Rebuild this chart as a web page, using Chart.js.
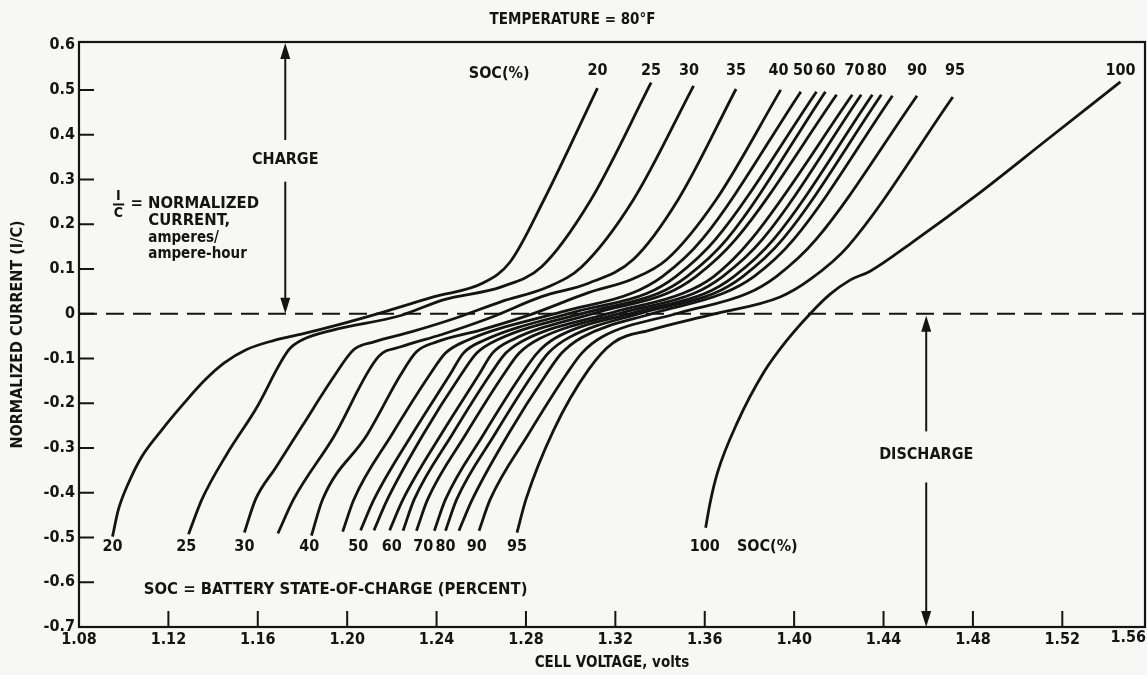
<!DOCTYPE html>
<html>
<head>
<meta charset="utf-8">
<script src="https://cdn.jsdelivr.net/npm/chart.js"></script>
<style>
  html, body { margin: 0; padding: 0; background: #f7f7f5; }
</style>
</head>
<body>
<canvas id="myChart" width="1147" height="675"></canvas>
<script>
// axis ticks
var xTicks = [1.08, 1.12, 1.16, 1.20, 1.24, 1.28, 1.32, 1.36, 1.40, 1.44, 1.48, 1.52];
var yTicks = [-0.7, -0.6, -0.5, -0.4, -0.3, -0.2, -0.1, 0, 0.1, 0.2, 0.3, 0.4, 0.5, 0.6];

// state of charge (%) of each curve
var socLevels = [20, 25, 30, 35, 40, 45, 50, 55, 60, 65, 70, 75, 80, 85, 90, 95, 100];

// [cell voltage (V), normalized current (I/C)]
var soc20 = [[1.095,-0.498],[1.0975,-0.44],[1.102,-0.38],[1.108,-0.32],[1.117,-0.26],[1.127,-0.20],[1.136,-0.15],[1.145,-0.11],[1.155,-0.08],[1.167,-0.06],[1.180,-0.045],[1.195,-0.026],[1.215,0.002],[1.239,0.038],[1.261,0.069],[1.273,0.116],[1.288,0.254],[1.312,0.504]];
var soc25 = [[1.129,-0.493],[1.135,-0.415],[1.146,-0.315],[1.159,-0.214],[1.174,-0.080],[1.180,-0.058],[1.194,-0.036],[1.224,-0.004],[1.243,0.031],[1.269,0.060],[1.287,0.105],[1.309,0.254],[1.336,0.516]];
var soc30 = [[1.154,-0.489],[1.159,-0.415],[1.168,-0.344],[1.180,-0.250],[1.194,-0.141],[1.203,-0.080],[1.212,-0.063],[1.229,-0.040],[1.249,-0.009],[1.269,0.027],[1.290,0.060],[1.305,0.105],[1.328,0.254],[1.355,0.509]];
var soc35 = [[1.169,-0.491],[1.176,-0.415],[1.194,-0.275],[1.214,-0.096],[1.224,-0.074],[1.242,-0.047],[1.264,-0.009],[1.287,0.038],[1.308,0.068],[1.328,0.121],[1.348,0.254],[1.374,0.502]];
var soc40 = [[1.184,-0.496],[1.189,-0.415],[1.209,-0.270],[1.224,-0.136],[1.231,-0.085],[1.240,-0.063],[1.260,-0.036],[1.282,-0.002],[1.308,0.047],[1.328,0.078],[1.343,0.121],[1.365,0.254],[1.394,0.500]];
var soc45 = [[1.198,-0.487],[1.203,-0.415],[1.220,-0.270],[1.237,-0.136],[1.244,-0.088],[1.253,-0.061],[1.296,0.004],[1.327,0.045],[1.341,0.083],[1.359,0.167],[1.403,0.496]];
var soc50 = [[1.206,-0.484],[1.212,-0.415],[1.229,-0.270],[1.246,-0.136],[1.252,-0.088],[1.261,-0.060],[1.302,0.004],[1.334,0.045],[1.347,0.083],[1.365,0.167],[1.410,0.496]];
var soc55 = [[1.212,-0.484],[1.218,-0.415],[1.234,-0.270],[1.251,-0.136],[1.258,-0.088],[1.267,-0.059],[1.307,0.003],[1.339,0.045],[1.352,0.083],[1.370,0.167],[1.414,0.496]];
var soc60 = [[1.219,-0.484],[1.225,-0.415],[1.242,-0.270],[1.259,-0.136],[1.265,-0.088],[1.274,-0.058],[1.312,0.003],[1.343,0.045],[1.356,0.083],[1.374,0.167],[1.419,0.489]];
var soc65 = [[1.225,-0.485],[1.230,-0.415],[1.247,-0.270],[1.264,-0.136],[1.271,-0.088],[1.280,-0.057],[1.319,0.003],[1.350,0.045],[1.364,0.083],[1.381,0.167],[1.426,0.489]];
var soc70 = [[1.231,-0.485],[1.236,-0.415],[1.253,-0.270],[1.270,-0.136],[1.277,-0.088],[1.286,-0.056],[1.323,0.002],[1.355,0.045],[1.368,0.083],[1.386,0.167],[1.430,0.489]];
var soc75 = [[1.239,-0.485],[1.244,-0.415],[1.261,-0.270],[1.278,-0.136],[1.285,-0.088],[1.293,-0.055],[1.328,0.002],[1.360,0.045],[1.373,0.083],[1.391,0.167],[1.435,0.489]];
var soc80 = [[1.244,-0.485],[1.249,-0.415],[1.266,-0.270],[1.283,-0.136],[1.290,-0.088],[1.299,-0.054],[1.332,0.002],[1.364,0.045],[1.377,0.083],[1.395,0.167],[1.439,0.489]];
var soc85 = [[1.250,-0.485],[1.256,-0.415],[1.272,-0.270],[1.289,-0.136],[1.296,-0.088],[1.305,-0.053],[1.337,0.001],[1.368,0.045],[1.382,0.083],[1.400,0.167],[1.444,0.487]];
var soc90 = [[1.259,-0.485],[1.264,-0.415],[1.281,-0.270],[1.298,-0.136],[1.305,-0.088],[1.314,-0.052],[1.348,0.001],[1.379,0.045],[1.392,0.083],[1.410,0.167],[1.455,0.487]];
var soc95 = [[1.276,-0.489],[1.280,-0.415],[1.2925,-0.259],[1.308,-0.125],[1.319,-0.065],[1.336,-0.036],[1.363,-0.002],[1.394,0.038],[1.407,0.076],[1.424,0.150],[1.471,0.484]];
var soc100 = [[1.3604,-0.478],[1.3625,-0.42],[1.3657,-0.355],[1.3746,-0.243],[1.3863,-0.132],[1.397,-0.058],[1.4072,0.000],[1.416,0.043],[1.425,0.075],[1.434,0.095],[1.453,0.160],[1.483,0.270],[1.513,0.388],[1.546,0.518]];
var curves = [soc20, soc25, soc30, soc35, soc40, soc45, soc50, soc55, soc60, soc65, soc70, soc75, soc80, soc85, soc90, soc95, soc100];

// curve labels along the top and bottom ends
var topLabels = ['20', '25', '30', '35', '40', '50', '60', '70', '80', '90', '95', '100'];
var topLabelV = [1.312, 1.336, 1.353, 1.374, 1.393, 1.404, 1.414, 1.427, 1.437, 1.455, 1.472, 1.546];
var bottomLabels = ['20', '25', '30', '40', '50', '60', '70', '80', '90', '95', '100'];
var bottomLabelV = [1.095, 1.128, 1.154, 1.183, 1.205, 1.220, 1.234, 1.244, 1.258, 1.276, 1.360];

var ink = '#141414';
var FONT = '"DejaVu Sans Condensed", "DejaVu Sans", sans-serif';

function drawArrow(c, x, yTip, yTail) {
  var dir = yTip < yTail ? 1 : -1;
  c.beginPath();
  c.moveTo(x, yTail);
  c.lineTo(x, yTip + dir * 8);
  c.stroke();
  c.beginPath();
  c.moveTo(x, yTip);
  c.lineTo(x - 5, yTip + dir * 16);
  c.lineTo(x + 5, yTip + dir * 16);
  c.closePath();
  c.fill();
}

var decor = {
  id: 'decor',
  beforeDraw: function(chart) {
    var c = chart.ctx;
    c.save();
    c.fillStyle = '#f7f7f5';
    c.fillRect(0, 0, chart.width, chart.height);
    c.restore();
  },
  afterDraw: function(chart) {
    var c = chart.ctx, a = chart.chartArea;
    var xs = chart.scales.x, ys = chart.scales.y;
    var X = function(v) { return xs.getPixelForValue(v); };
    var Y = function(v) { return ys.getPixelForValue(v); };
    c.save();
    c.strokeStyle = ink;
    c.fillStyle = ink;
    c.lineWidth = 2.2;
    c.strokeRect(a.left, a.top, a.right - a.left, a.bottom - a.top);

    // inward tick marks
    c.lineWidth = 2;
    c.beginPath();
    xTicks.forEach(function(v) {
      if (v > 1.09) { c.moveTo(X(v), a.bottom); c.lineTo(X(v), a.bottom - 16); }
    });
    yTicks.forEach(function(v) {
      if (v > -0.65 && v < 0.55) { c.moveTo(a.left, Y(v)); c.lineTo(a.left + 15, Y(v)); }
    });
    c.stroke();

    // last x label sits against the frame
    c.font = 'bold 16px ' + FONT;
    c.textAlign = 'right';
    c.textBaseline = 'top';
    c.fillText('1.56', a.right + 1, a.bottom + 3);

    // zero current line
    c.save();
    c.setLineDash([18, 9]);
    c.beginPath();
    c.moveTo(a.left, Y(0));
    c.lineTo(a.right, Y(0));
    c.stroke();
    c.restore();

    // charge / discharge arrows
    var xc = X(1.1723), xd = X(1.4591);
    drawArrow(c, xc, a.top + 1, Y(0.388));
    drawArrow(c, xc, Y(0), Y(0.295));
    drawArrow(c, xd, Y(0) + 2, Y(-0.263));
    drawArrow(c, xd, a.bottom, Y(-0.377));

    c.textAlign = 'center';
    c.textBaseline = 'middle';
    c.fillText('CHARGE', xc, Y(0.344));
    c.fillText('DISCHARGE', xd, Y(-0.315));

    // SOC labels
    c.fillText('SOC(%)', X(1.268), Y(0.536));
    topLabels.forEach(function(t, k) { c.fillText(t, X(topLabelV[k]), Y(0.542)); });
    bottomLabels.forEach(function(t, k) { c.fillText(t, X(bottomLabelV[k]), Y(-0.520)); });
    c.fillText('SOC(%)', X(1.388), Y(-0.520));

    c.textAlign = 'left';
    c.font = 'bold 16.5px ' + FONT;
    c.fillText('SOC = BATTERY STATE-OF-CHARGE (PERCENT)', X(1.109), Y(-0.616));

    // I/C legend note
    c.textAlign = 'center';
    c.font = 'bold 14px ' + FONT;
    c.fillText('I', X(1.0976), Y(0.262));
    c.fillText('C', X(1.0976), Y(0.224));
    c.beginPath();
    c.moveTo(X(1.0952), Y(0.244));
    c.lineTo(X(1.1002), Y(0.244));
    c.stroke();
    c.textAlign = 'left';
    c.font = 'bold 16.5px ' + FONT;
    c.fillText('= NORMALIZED', X(1.103), Y(0.246));
    c.fillText('CURRENT,', X(1.111), Y(0.208));
    c.font = 'bold 15px ' + FONT;
    c.fillText('amperes/', X(1.111), Y(0.169));
    c.fillText('ampere-hour', X(1.111), Y(0.132));
    c.restore();
  }
};

var ctx = document.getElementById('myChart').getContext('2d');
var myChart = new Chart(ctx, {
  type: 'scatter',
  data: {
    datasets: socLevels.map(function(s, k) {
      return {
        label: 'SOC ' + s + '%',
        data: curves[k].map(function(p) { return { x: p[0], y: p[1] }; }),
        showLine: true,
        borderColor: ink,
        backgroundColor: ink,
        borderWidth: 2.8,
        pointRadius: 0,
        cubicInterpolationMode: 'monotone',
        fill: false
      };
    })
  },
  options: {
    responsive: false,
    animation: false,
    devicePixelRatio: 1,
    layout: { padding: { left: 0, right: 2, top: 0, bottom: 0 } },
    plugins: {
      legend: { display: false },
      tooltip: { enabled: false },
      title: {
        display: true,
        text: 'TEMPERATURE = 80°F',
        color: ink,
        font: { family: FONT, size: 15, weight: 'bold' },
        padding: { top: 11, bottom: 13 }
      }
    },
    scales: {
      x: {
        type: 'linear',
        min: 1.08,
        max: 1.557,
        afterBuildTicks: function(scale) {
          scale.ticks = xTicks.map(function(v) { return { value: v }; });
        },
        afterFit: function(scale) {
          scale.height = 48;
          scale.paddingLeft = 0;
          scale.paddingRight = 0;
        },
        grid: { display: false, drawTicks: false },
        border: { display: false },
        ticks: {
          color: ink,
          padding: 3,
          maxRotation: 0,
          autoSkip: false,
          font: { family: FONT, size: 16, weight: 'bold' },
          callback: function(v) { return v.toFixed(2); }
        },
        title: {
          display: true,
          text: 'CELL VOLTAGE, volts',
          color: ink,
          font: { family: FONT, size: 15, weight: 'bold' },
          padding: { top: 0, bottom: 3 }
        }
      },
      y: {
        type: 'linear',
        min: -0.7,
        max: 0.607,
        afterBuildTicks: function(scale) {
          scale.ticks = yTicks.map(function(v) { return { value: v }; });
        },
        afterFit: function(scale) {
          scale.width = 79;
        },
        grid: { display: false, drawTicks: false },
        border: { display: false },
        ticks: {
          color: ink,
          padding: 4,
          autoSkip: false,
          font: { family: FONT, size: 16, weight: 'bold' },
          callback: function(v) { return v === 0 ? '0' : v.toFixed(1); }
        },
        title: {
          display: true,
          text: 'NORMALIZED CURRENT (I/C)',
          color: ink,
          font: { family: FONT, size: 16, weight: 'bold' },
          padding: { top: 8, bottom: 0 }
        }
      }
    }
  },
  plugins: [decor]
});
</script>
</body>
</html>
